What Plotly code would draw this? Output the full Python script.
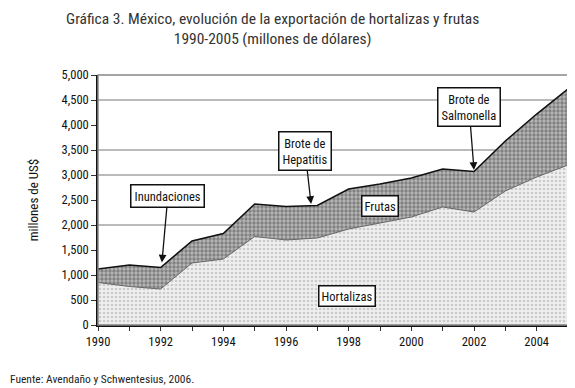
import plotly.graph_objects as go

years = list(range(1990, 2006))
hortalizas = [850, 770, 720, 1240, 1320, 1770, 1700, 1740, 1920, 2040, 2160, 2360, 2260, 2680, 2960, 3200]
frutas = [270, 430, 430, 440, 510, 650, 670, 650, 800, 780, 780, 760, 810, 1000, 1260, 1520]
y_ticks = [0, 500, 1000, 1500, 2000, 2500, 3000, 3500, 4000, 4500, 5000]
x_tick_labels = [1990, 1992, 1994, 1996, 1998, 2000, 2002, 2004]
grid_values = [2000, 3000, 3500, 4500]

FONT = "Liberation Sans Narrow, Arial Narrow, Roboto Condensed, Liberation Sans, Arial"

W, H = 567, 380
ML, MR, MT, MB = 90, 7, 67, 63
PW, PH = W - ML - MR, H - MT - MB

fig = go.Figure()
fig.add_trace(go.Scatter(
    x=years, y=hortalizas, name="Hortalizas", stackgroup="one", mode="lines",
    line=dict(color="#666666", width=1),
    fillcolor="#eeeeee",
    fillpattern=dict(shape=".", bgcolor="#efefef", fgcolor="#a8a8a8", size=4, solidity=0.35),
))
fig.add_trace(go.Scatter(
    x=years, y=frutas, name="Frutas", stackgroup="one", mode="lines",
    line=dict(color="#111111", width=1.6),
    fillcolor="#999999",
    fillpattern=dict(shape=".", bgcolor="#7c7c7c", fgcolor="#ececec", size=4, solidity=0.55),
))

shapes = []
for g in grid_values:
    shapes.append(dict(type="line", xref="paper", x0=0, x1=1, yref="y", y0=g, y1=g,
                       line=dict(color="#777777", width=1), layer="below"))

ann_common = dict(font=dict(family=FONT, size=12.5, color="#111111"), bgcolor="white",
                  bordercolor="#111111", borderwidth=1.5, borderpad=3,
                  arrowcolor="#111111", arrowwidth=1.3, arrowhead=2, arrowsize=1.2,
                  axref="pixel", ayref="pixel")

annotations = [
    dict(x=1992.04, y=1250, text="Inundaciones", showarrow=True, ax=6, ay=-67, **ann_common),
    dict(x=1996.8, y=2420, text="Brote de<br>Hepatitis", showarrow=True, ax=-6, ay=-53, **ann_common),
    dict(x=2002.0, y=3100, text="Brote de<br>Salmonella", showarrow=True, ax=-5, ay=-63, **ann_common),
    dict(x=1999.0, y=2380, text="Frutas", showarrow=False,
         font=dict(family=FONT, size=12.5, color="#111111"), bgcolor="white",
         bordercolor="#111111", borderwidth=1.5, borderpad=2),
    dict(x=1997.95, y=580, text="Hortalizas", showarrow=False,
         font=dict(family=FONT, size=12.5, color="#111111"), bgcolor="white",
         bordercolor="#111111", borderwidth=1.5, borderpad=2),
    dict(xref="paper", yref="paper", x=(264 - ML) / PW, y=1 + MT / PH, xanchor="center", yanchor="top",
         align="center",
         text="Gráfica 3. México, evolución de la exportación de hortalizas y frutas<br>1990-2005 (millones de dólares)",
         showarrow=False, font=dict(family=FONT, size=15.5, color="#333333")),
    dict(xref="paper", yref="paper", x=-ML / PW, y=-(371 - (MT + PH)) / PH, xanchor="left", yanchor="middle",
         text="Fuente: Avendaño y Schwentesius, 2006.", showarrow=False,
         font=dict(family=FONT, size=11.5, color="#222222")),
]

fig.update_layout(
    width=W, height=H,
    margin=dict(l=ML, r=MR, t=MT, b=MB),
    paper_bgcolor="white", plot_bgcolor="white",
    showlegend=False,
    shapes=shapes,
    annotations=annotations,
    font=dict(family=FONT, size=12, color="#111111"),
)
fig.update_xaxes(
    range=[1990, 2005], tickmode="array", tickvals=years,
    ticktext=[str(y) if y in x_tick_labels else "" for y in years],
    ticks="outside", ticklen=4, tickcolor="#333333",
    showline=True, linecolor="#111111", linewidth=1.5, mirror=False,
    showgrid=False, zeroline=False,
    tickfont=dict(family=FONT, size=12.5, color="#111111"),
)
fig.update_yaxes(
    range=[0, 5000], tickmode="array", tickvals=y_ticks,
    ticktext=[f"{v:,}" for v in y_ticks],
    ticks="outside", ticklen=5, tickcolor="#333333",
    showline=True, linecolor="#111111", linewidth=1.5,
    showgrid=False, zeroline=False,
    title=dict(text="millones de US$", font=dict(family=FONT, size=13, color="#111111"), standoff=20),
    tickfont=dict(family=FONT, size=12.5, color="#111111"),
)
fig.add_shape(type="rect", xref="paper", yref="paper", x0=0, x1=1, y0=0, y1=1,
              line=dict(color="#888888", width=1.5), layer="above")

fig.write_html("out.html")
